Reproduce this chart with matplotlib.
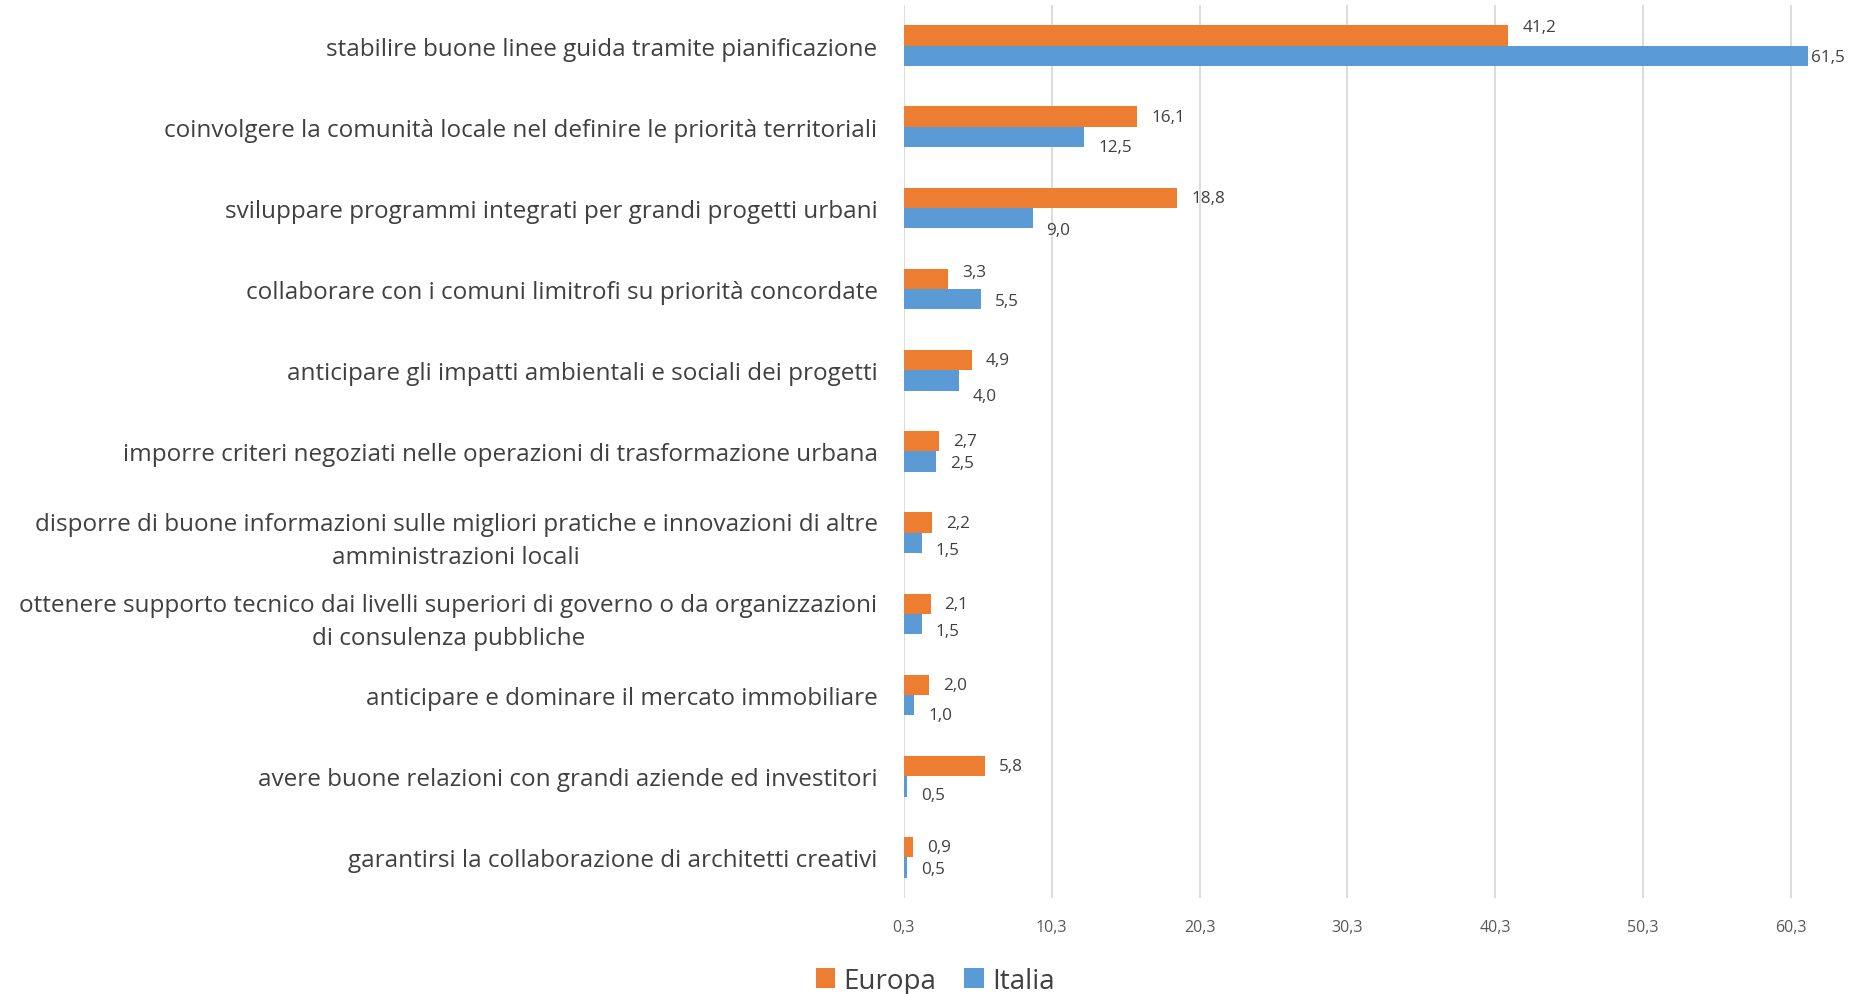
import numpy as np
import matplotlib.pyplot as plt

categories = [
    "stabilire buone linee guida tramite pianificazione",
    "coinvolgere la comunità locale nel definire le priorità territoriali",
    "sviluppare programmi integrati per grandi progetti urbani",
    "collaborare con i comuni limitrofi su priorità concordate",
    "anticipare gli impatti ambientali e sociali dei progetti",
    "imporre criteri negoziati nelle operazioni di trasformazione urbana",
    "disporre di buone informazioni sulle migliori pratiche e innovazioni di altre\namministrazioni locali",
    "ottenere supporto tecnico dai livelli superiori di governo o da organizzazioni\ndi consulenza pubbliche",
    "anticipare e dominare il mercato immobiliare",
    "avere buone relazioni con grandi aziende ed investitori",
    "garantirsi la collaborazione di architetti creativi",
]
europa = [41.2, 16.1, 18.8, 3.3, 4.9, 2.7, 2.2, 2.1, 2.0, 5.8, 0.9]
italia = [61.5, 12.5, 9.0, 5.5, 4.0, 2.5, 1.5, 1.5, 1.0, 0.5, 0.5]
xticks = [0.3, 10.3, 20.3, 30.3, 40.3, 50.3, 60.3]

# label nudges in points (x, y) so neighbouring labels don't collide
nudge_eu = [6, 0, 0, 5, 0, 0, 0, 0, 0, 0, 0]
nudge_it = [-1, -7, -8.5, -1, -11, -1, -5, -5, -7, -6, -1]
pad_it = [2, 10, 10, 10, 10, 10, 10, 10, 10, 10, 10]

ORANGE = "#ED7D31"
BLUE = "#5B9BD5"
TEXT = "#404040"
GRID = "#D9D9D9"

plt.rcParams['font.family'] = ['Open Sans', 'DejaVu Sans']

fig = plt.figure(figsize=(18.63, 9.95), dpi=100)
ax = fig.add_axes([0.4852, 0.0965, 0.4998, 0.8975])

y = np.arange(len(categories))
h = 0.25
ax.barh(y - h / 2, europa, height=h, color=ORANGE, label="Europa", zorder=3)
ax.barh(y + h / 2, italia, height=h, color=BLUE, label="Italia", zorder=3)

def fmt(v):
    return f"{v:.1f}".replace('.', ',')

for i in range(len(categories)):
    ax.annotate(fmt(europa[i]), (europa[i], y[i] - h / 2), xytext=(10, nudge_eu[i]),
                textcoords='offset points', ha='left', va='center',
                fontsize=12.3, color=TEXT, annotation_clip=False)
    ax.annotate(fmt(italia[i]), (italia[i], y[i] + h / 2), xytext=(pad_it[i], nudge_it[i]),
                textcoords='offset points', ha='left', va='center',
                fontsize=12.3, color=TEXT, annotation_clip=False)

ax.set_xlim(0.3, 63.3)
ax.set_ylim(len(categories) - 0.5, -0.5)
ax.set_xticks(xticks)
ax.set_xticklabels([fmt(t) for t in xticks], fontsize=11.5, color="#595959")
ax.set_yticks(y)
ax.set_yticklabels(categories, fontsize=17.5, color=TEXT)
for t in ax.get_yticklabels():
    t.set_multialignment('center')
    t.set_linespacing(1.5)
ax.tick_params(axis='y', length=0, pad=19)
ax.tick_params(axis='x', length=0, pad=15)
ax.xaxis.grid(True, color=GRID, linewidth=1.3, zorder=0)
for s in ax.spines.values():
    s.set_visible(False)

fig.legend(loc='lower center', bbox_to_anchor=(0.502, -0.026), ncol=2, frameon=False,
           fontsize=20, handlelength=0.7, handleheight=0.7, handletextpad=0.3,
           columnspacing=1.0, labelcolor=TEXT)

fig.savefig("out.png", dpi=100)
